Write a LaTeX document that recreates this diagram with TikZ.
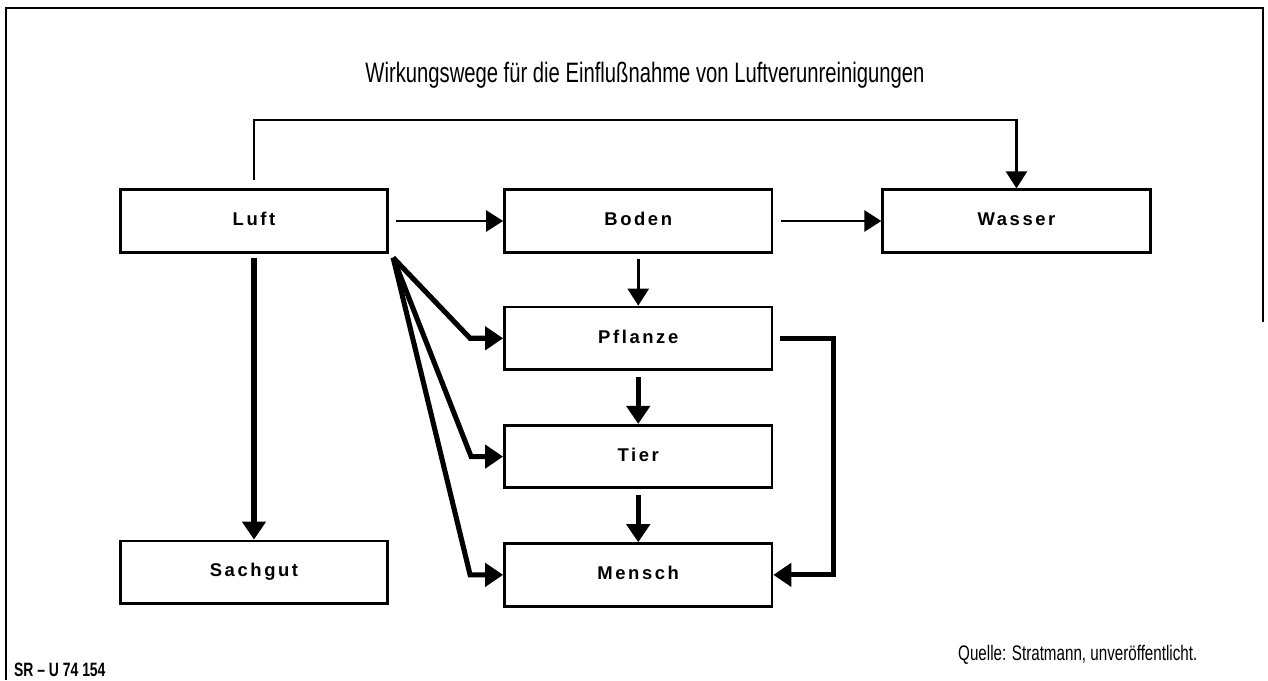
\documentclass[tikz,border=0pt]{standalone}
\usepackage{fontspec}
\usepackage{tikz}
\usetikzlibrary{arrows.meta, positioning}
\newfontfamily\boxfont[LetterSpace=14]{Liberation Sans}
\newfontfamily\narrowfont[FakeStretch=0.72]{Liberation Sans}
\tikzset{
    block/.style={rectangle, minimum width=5.35cm, minimum height=1.25cm, text centered, text height=1.55ex, text depth=0.3ex, draw=black, line width=1.6pt, font=\boxfont\bfseries\fontsize{10.5}{12}\selectfont},
    thinarrow/.style={->, line width=1.6pt},
    thickarrow/.style={-{Triangle[length=0.36cm,width=0.46cm]}, line width=2.9pt},
    frameline/.style={line width=1.2pt},
}
\begin{document}
\begin{tikzpicture}[x=0.02cm, y=-0.02cm, >={Triangle[length=0.34cm,width=0.42cm]}, node distance=1.06cm and 2.2cm]
  \useasboundingbox (0,0) rectangle (1268,680);
  \draw[frameline] (6,680) -- (6,8) -- (1263,8) -- (1263,322);

  \node (title) at (645,75) {\narrowfont\fontsize{16}{19}\selectfont Wirkungswege für die Einflußnahme von Luftverunreinigungen};

  \node[block]  (luft)    at (254,221)           {Luft};
  \node[block]  (boden)   [right=2.28cm of luft]  {Boden};
  \node[block]  (wasser)  [right=2.16cm of boden] {Wasser};
  \node[block]  (pflanze) [below=1.04cm of boden] {Pflanze};
  \node[block]  (tier)    [below=of pflanze]      {Tier};
  \node[block]  (mensch)  [below=of tier]         {Mensch};
  \node[block]  (sachgut) [below=5.72cm of luft]  {Sachgut};

  \coordinate (top) at (0,120);
  \coordinate (fan) at ([shift={(0.08cm,-0.08cm)}]luft.south east);

  \path[thinarrow]  (luft)  edge[shorten <=0.14cm] (boden);
  \path[thinarrow]  (boden)  edge[shorten <=0.16cm] (wasser);
  \path[thinarrow]  (boden)  edge[shorten <=0.1cm] (pflanze);
  \draw[thinarrow, shorten <=0.16cm] (luft.north) -- (luft.north |- top) -| (wasser.north);

  \path[thickarrow]  (luft)  edge[shorten <=0.08cm] (sachgut);
  \path[thickarrow]  (pflanze)  edge[shorten <=0.12cm] (tier);
  \path[thickarrow]  (tier)  edge[shorten <=0.12cm] (mensch);
  \draw[thickarrow] (fan) -- ([xshift=-0.66cm]pflanze.west) -- (pflanze.west);
  \draw[thickarrow] (fan) -- ([xshift=-0.64cm]tier.west) -- (tier.west);
  \draw[thickarrow] (fan) -- ([xshift=-0.66cm]mensch.west) -- (mensch.west);
  \draw[thickarrow, shorten <=0.14cm] (pflanze.east) -- ++(1.2cm,0) |- (mensch.east);

  \node[anchor=west] (quelle) at (952,655) {\narrowfont\fontsize{12}{14}\selectfont Quelle: Stratmann, unveröffentlicht.};
  \node[anchor=west] (kennung) at (8,670) {\narrowfont\bfseries\fontsize{11}{13}\selectfont SR – U 74 154};
\end{tikzpicture}
\end{document}
